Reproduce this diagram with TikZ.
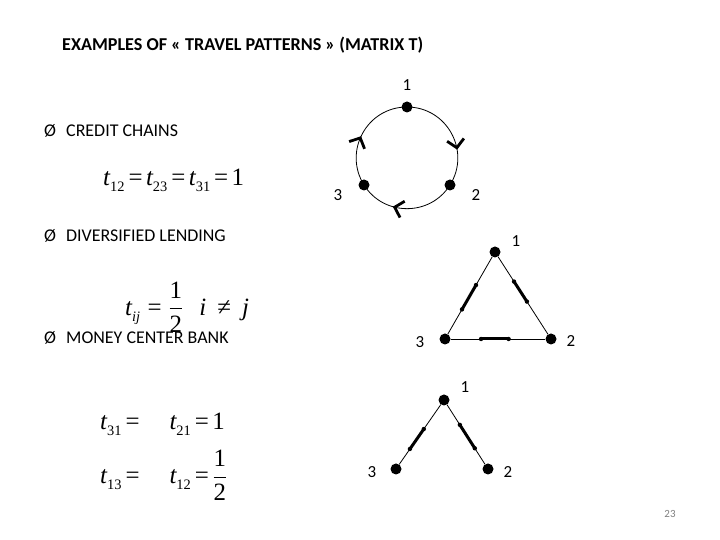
\documentclass[tikz,border=0pt]{standalone}
\usepackage{unicode-math}
\setmainfont{Carlito}
\setmathfont{Latin Modern Math}
\setmathfont[range=it/{latin,Latin}]{Liberation Serif Italic}
\setmathfont[range={up/num,"003D,"2260}]{Liberation Serif}
\DeclareMathSizes{25}{25}{14.5}{11}
\usetikzlibrary{arrows.meta,decorations.markings}
\newcommand\tightmath{\thickmuskip=2.5mu\relax\medmuskip=2mu\relax}

\begin{document}
\begin{tikzpicture}[
  x=1bp, y=1bp,
  txt/.style={anchor=west, inner sep=0pt, font=\fontsize{18}{21}\selectfont},
  bul/.style={inner sep=0pt, font=\fontsize{18}{21}\selectfont},
  eq/.style={anchor=west, inner sep=0pt, font=\fontsize{25}{29}\selectfont},
  num/.style={inner sep=0pt, font=\fontsize{17}{20}\selectfont},
  dot/.style={circle, fill, inner sep=0pt, minimum size=11bp},
  edge/.style={line width=0.8bp},
  flow/.style={line width=3bp},
  chev/.style={line width=0.8bp, postaction={decorate},
    decoration={markings, mark=at position #1 with {\arrow{Straight Barb[length=8bp,width=17bp,line width=2.8bp]}}}}
]
\fill[white] (0,0) rectangle (720,540);
\useasboundingbox (0,0) rectangle (720,540);

\node[anchor=west, inner sep=0pt, font=\bfseries\fontsize{18.2}{21}\selectfont] (title) at (62,495) {EXAMPLES OF « TRAVEL PATTERNS » (MATRIX T)};

\node[bul] (b1) at (50,409) {Ø};
\node[txt] (chains) at (66,409) {CREDIT CHAINS};
\node[bul] (b2) at (50,304) {Ø};
\node[txt] (divers) at (66,304) {DIVERSIFIED LENDING};
\node[bul] (b3) at (50,202) {Ø};
\node[txt] (money) at (66,202) {MONEY CENTER BANK};

\node[eq] (eqchains) at (103,360) {$\tightmath t_{12}=t_{23}=t_{31}=1$};
\node[eq] (eqdivers) at (125,233) {$t_{ij}=\dfrac{1}{2}\hspace{16bp} i\mathrel{\,\neq\,}j$};
\node[eq] (eqmoney) at (100,85) {$\begin{array}{@{}l@{\hspace{30bp}}l@{}} \tightmath t_{31}= & \tightmath t_{21}=1\\[12bp] \tightmath t_{13}= & \tightmath t_{12}=\dfrac{1}{2}\end{array}$};

\node[dot] (c1) at (407,433) {};
\node[dot] (c2) at (450,355) {};
\node[dot] (c3) at (364,355) {};
\node[num] (c1l) at (407,455) {1};
\node[num] (c2l) at (476,345) {2};
\node[num] (c3l) at (338,345) {3};
\draw[chev=0.66] (c1.center) to[out=0,in=58,looseness=1.15] (c2.center);
\draw[chev=0.64] (c2.center) to[out=-122,in=-58,looseness=1.11] (c3.center);
\draw[chev=0.47] (c3.center) to[out=122,in=180,looseness=1.15] (c1.center);

\node[dot] (t1) at (495,288) {};
\node[dot] (t2) at (551,201) {};
\node[dot] (t3) at (445,201) {};
\node[num] (t1l) at (516,299) {1};
\node[num] (t2l) at (571,199) {2};
\node[num] (t3l) at (420,198) {3};

\node[dot] (m1) at (444,140) {};
\node[dot] (m2) at (488,71) {};
\node[dot] (m3) at (396,71) {};
\node[num] (m1l) at (465,153) {1};
\node[num] (m2l) at (508,68) {2};
\node[num] (m3l) at (372,68) {3};

\foreach \a/\b/\p/\q/\n in {t1/t3/0.38/0.66/a, t1/t2/0.34/0.57/b, t3/t2/0.34/0.6/c, m1/m3/0.42/0.71/d, m1/m2/0.36/0.7/e} {
  \draw[edge] (\a) -- (\b);
  \path (\a.center) -- coordinate[pos=\p] (\n1) coordinate[pos=\q] (\n2) (\b.center);
  \draw[flow] (\n1) -- (\n2);
  \fill (\n1) circle[radius=2.2bp] (\n2) circle[radius=2.2bp];
}

\node[font=\fontsize{11}{13}\selectfont, text=gray] (page) at (670,26) {23};
\end{tikzpicture}
\end{document}
